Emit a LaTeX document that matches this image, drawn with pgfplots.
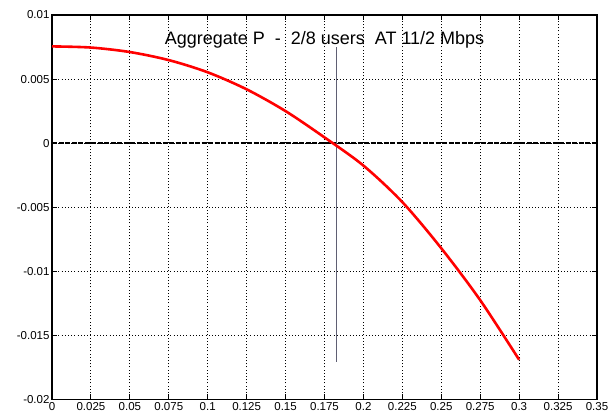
\documentclass[border=0pt]{standalone}
\usepackage{fontspec}
\setmainfont{Liberation Sans}
\usepackage{pgfplots}
\pgfplotsset{compat=1.18}

\begin{document}
\begin{tikzpicture}
\begin{axis}[
  scale only axis,
  width=545pt, height=384.5pt,
  xmin=0, xmax=0.35, ymin=-0.02, ymax=0.01,
  scaled x ticks=false, scaled y ticks=false,
  xtick={0,0.025,...,0.35},
  xticklabels={0,0.025,0.05,0.075,0.1,0.125,0.15,0.175,0.2,0.225,0.25,0.275,0.3,0.325,0.35},
  ytick={-0.02,-0.015,-0.01,-0.005,0,0.005,0.01},
  yticklabels={-0.02,-0.015,-0.01,-0.005,0,0.005,0.01},
  ticklabel style={font=\fontsize{11.5}{12}\selectfont},
  xticklabel style={yshift=1pt},
  yticklabel style={xshift=1pt},
  tick align=inside,
  tickpos=both,
  major tick length=5pt,
  tick style={black, line width=1pt},
  axis line style={black, line width=1.3pt},
  grid=major,
  major grid style={black, line width=0.9pt, dash pattern=on 1pt off 2.2pt},
  clip=false,
]
% zero reference line
\addplot[black, line width=2.2pt, dash pattern=on 5pt off 1.5pt] coordinates {(0,0) (0.35,0)};
% marker line at the crossing
\addplot[color={rgb,255:red,95;green,95;blue,115}, line width=1.3pt] coordinates {(0.1825,0.0075) (0.1825,-0.0171)};
% aggregate P curve
\addplot[red, line width=2.6pt, smooth] coordinates {
  (0,      0.00755)
  (0.025,  0.00746)
  (0.05,   0.00711)
  (0.075,  0.00648)
  (0.1,    0.00553)
  (0.125,  0.00420)
  (0.15,   0.00250)
  (0.175,  0.00045)
  (0.2,   -0.00175)
  (0.225, -0.00460)
  (0.25,  -0.00820)
  (0.275, -0.01225)
  (0.3,   -0.01690)
};
\node[font=\fontsize{18}{20}\selectfont, anchor=center] at (rel axis cs:0.5,0.935)
  {Aggregate P\ \ -\ \ 2/8 users\ \ AT 11/2 Mbps};
\end{axis}
\pgfresetboundingbox
\path (current axis.south west) ++(-52pt,-20.5pt) rectangle ++(611pt,420pt);
\end{tikzpicture}
\end{document}
